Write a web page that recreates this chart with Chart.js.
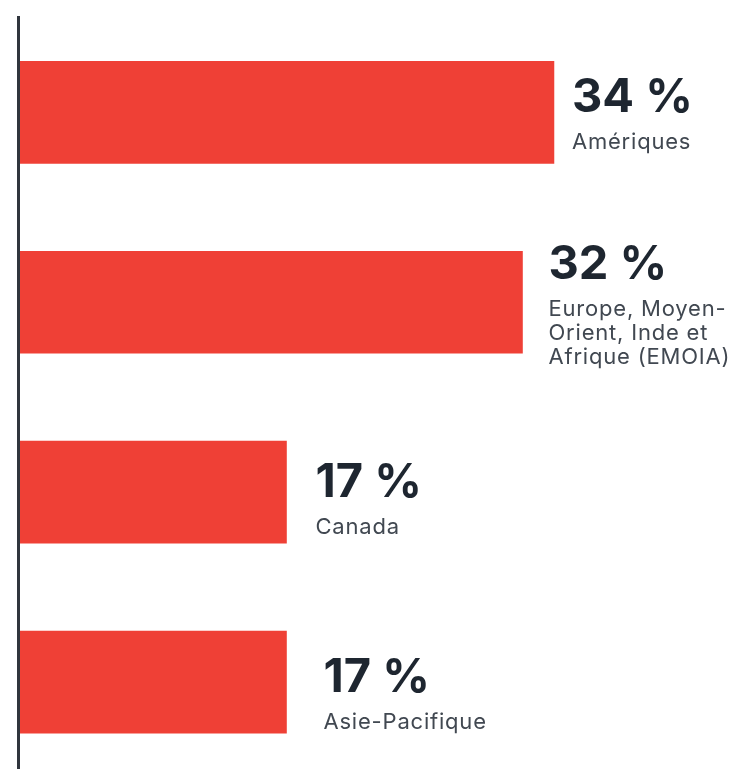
<!DOCTYPE html>
<html lang="fr">
<head>
<meta charset="utf-8">
<title>Répartition par région</title>
<script src="https://cdn.jsdelivr.net/npm/chart.js@4/dist/chart.umd.min.js"></script>
<style>
    html, body { margin: 0; padding: 0; background: #ffffff; overflow: hidden; }
    #regionChart { display: block; }
</style>
</head>
<body>
<!-- le canvas dépasse un peu la fenêtre : la dernière bande est coupée en bas -->
<canvas id="regionChart" width="737" height="777"></canvas>
<script>
// Régions (une entrée par ligne de texte)
const regions = [
    ['Amériques'],
    ['Europe, Moyen-', 'Orient, Inde et', 'Afrique (EMOIA)'],
    ['Canada'],
    ['Asie-Pacifique']
];

// Part de chaque région, en %
const shares = [34, 32, 17, 17];

// Couleurs
const barColor = 'rgb(239, 64, 54)';
const valueColor = '#1e2630';
const regionColor = '#414851';
const axisColor = '#30353d';

// Décalages des étiquettes par rapport au bout de la barre
const labelNudgeX = [18, 26, 29, 37];
const labelNudgeY = [0, 1, 5, 10];

const fontFamily = 'Inter, "DejaVu Sans", sans-serif';

// Ligne verticale de l'axe
const axisLine = {
    id: 'axisLine',
    afterDatasetsDraw(chart) {
        const ctx = chart.ctx;
        const x = chart.chartArea.left - 0.5;
        ctx.save();
        ctx.strokeStyle = axisColor;
        ctx.lineWidth = 3;
        ctx.beginPath();
        ctx.moveTo(x, 16);
        ctx.lineTo(x, chart.height);
        ctx.stroke();
        ctx.restore();
    }
};

// Pourcentage + nom de la région à droite de chaque barre
const barLabels = {
    id: 'barLabels',
    afterDatasetsDraw(chart) {
        const ctx = chart.ctx;
        const meta = chart.getDatasetMeta(0);
        const lineH = 24;
        ctx.save();
        ctx.textAlign = 'left';
        ctx.textBaseline = 'alphabetic';
        meta.data.forEach((bar, i) => {
            const lines = regions[i];
            const x = bar.x + labelNudgeX[i];
            const base = bar.y - (lines.length - 1) * lineH / 2 + labelNudgeY[i];

            ctx.fillStyle = valueColor;
            ctx.font = 'bold 47px ' + fontFamily;
            ctx.letterSpacing = '0px';
            ctx.fillText(shares[i] + ' %', x, base);

            ctx.fillStyle = regionColor;
            ctx.font = '22px ' + fontFamily;
            ctx.letterSpacing = '0.8px';
            lines.forEach((line, j) => {
                ctx.fillText(line, x, base + 37 + j * lineH);
            });
        });
        ctx.restore();
    }
};

function renderChart() {
    const ctx = document.getElementById('regionChart').getContext('2d');

    new Chart(ctx, {
        type: 'bar',
        data: {
            labels: regions,
            datasets: [{
                data: shares,
                backgroundColor: barColor,
                borderWidth: 0,
                barThickness: 102
            }]
        },
        options: {
            indexAxis: 'y',
            responsive: false,
            animation: false,
            layout: {
                padding: { left: 19, right: 10, top: 17.4, bottom: 0 }
            },
            plugins: {
                legend: { display: false },
                tooltip: { enabled: false }
            },
            scales: {
                x: { display: false, min: 0, max: 45 },
                y: { display: false }
            }
        },
        plugins: [axisLine, barLabels]
    });
}

document.addEventListener('DOMContentLoaded', renderChart);
</script>
</body>
</html>
